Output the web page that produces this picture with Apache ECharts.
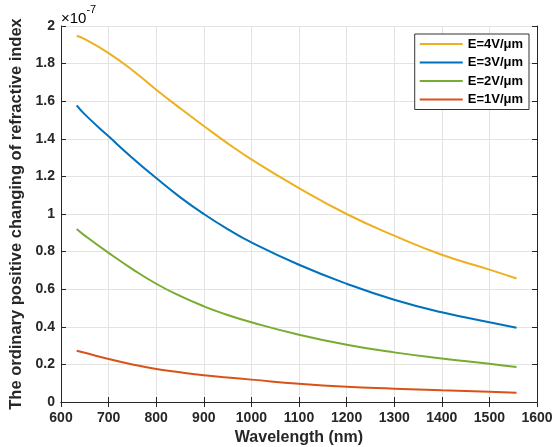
<!DOCTYPE html>
<html>
<head>
<meta charset="utf-8">
<script src="https://cdn.jsdelivr.net/npm/echarts@6/dist/echarts.min.js"></script>
<style>html,body{margin:0;padding:0;background:#fff;}#c{width:552px;height:447px;}</style>
</head>
<body>
<div id="c"></div>
<script>
// wavelength (nm)
const wavelengths = [633, 650, 700, 750, 800, 850, 900, 950, 1000, 1100, 1200, 1300, 1400, 1500, 1557];
// ordinary refractive index change, in units of 1e-7
const e4 = [1.948, 1.930, 1.856, 1.765, 1.661, 1.563, 1.468, 1.376, 1.291, 1.138, 1.000, 0.885, 0.783, 0.704, 0.657];
const e3 = [1.578, 1.530, 1.413, 1.298, 1.191, 1.090, 1.000, 0.920, 0.849, 0.730, 0.629, 0.544, 0.477, 0.424, 0.395];
const e2 = [0.920, 0.885, 0.793, 0.707, 0.629, 0.564, 0.509, 0.463, 0.424, 0.358, 0.305, 0.264, 0.232, 0.204, 0.186];
const e1 = [0.273, 0.262, 0.229, 0.200, 0.176, 0.158, 0.142, 0.130, 0.119, 0.097, 0.081, 0.071, 0.062, 0.055, 0.049];
const xTicks = [600, 700, 800, 900, 1000, 1100, 1200, 1300, 1400, 1500, 1600];
const seriesNames = ['E=4V/\u03bcm', 'E=3V/\u03bcm', 'E=2V/\u03bcm', 'E=1V/\u03bcm'];
const seriesColors = ['#EDB120', '#0072BD', '#77AC30', '#D95319'];
const seriesValues = [e4, e3, e2, e1];

const font = '"Liberation Sans", Arial, Helvetica, sans-serif';
const chart = echarts.init(document.getElementById('c'), null, {renderer: 'canvas'});
const axisCommon = {
  axisLine: {show: true, lineStyle: {color: '#262626', width: 1}},
  axisTick: {show: true, inside: true, length: 5, lineStyle: {color: '#262626'}},
};
chart.setOption({
  backgroundColor: '#fff',
  animation: false,
  grid: {left: 61, right: 15, top: 26, bottom: 45, containLabel: false, outerBoundsMode: 'none'},
  legend: {
    orient: 'vertical',
    right: 23,
    top: 34,
    padding: [3, 6, 3, 5],
    backgroundColor: '#fff',
    borderColor: '#333',
    borderWidth: 1,
    itemWidth: 43,
    itemHeight: 2,
    itemGap: 4.5,
    icon: 'rect',
    textStyle: {fontFamily: font, fontSize: 13, fontWeight: 'bold', color: '#000', lineHeight: 14},
    data: seriesNames
  },
  xAxis: [{
    type: 'value', min: xTicks[0], max: xTicks[xTicks.length - 1], interval: 100, position: 'bottom',
    name: 'Wavelength (nm)', nameLocation: 'middle', nameGap: 28,
    nameTextStyle: {fontFamily: font, fontSize: 16, fontWeight: 'bold', color: '#262626'},
    axisLabel: {fontFamily: font, fontSize: 14, fontWeight: 'bold', color: '#262626', margin: 9,
      formatter: v => String(v)},
    splitLine: {show: true, lineStyle: {color: '#e3e3e3', width: 1}},
    ...axisCommon
  }, {
    type: 'value', min: xTicks[0], max: xTicks[xTicks.length - 1], interval: 100, position: 'top',
    axisLabel: {show: false}, splitLine: {show: false},
    ...axisCommon
  }],
  yAxis: [{
    type: 'value', min: 0, max: 2, interval: 0.2, position: 'left',
    name: 'The ordinary positive changing of refractive index', nameLocation: 'middle', nameGap: 28,
    nameTextStyle: {fontFamily: font, fontSize: 16.5, fontWeight: 'bold', color: '#262626'},
    axisLabel: {fontFamily: font, fontSize: 14, fontWeight: 'bold', color: '#262626', margin: 6},
    splitLine: {show: true, lineStyle: {color: '#e3e3e3', width: 1}},
    ...axisCommon
  }, {
    type: 'value', min: 0, max: 2, interval: 0.2, position: 'right',
    axisLabel: {show: false}, splitLine: {show: false},
    ...axisCommon
  }],
  graphic: [{
    type: 'text', left: 61, top: 4,
    style: {
      text: '{a|\u00d710}{b|-7}',
      rich: {
        a: {fontFamily: font, fontSize: 15, color: '#262626', verticalAlign: 'bottom', padding: [7, 0, 0, 0]},
        b: {fontFamily: font, fontSize: 11, color: '#262626', verticalAlign: 'top', padding: [0, 0, 9, 0]}
      }
    }
  }],
  series: seriesNames.map((n, k) => ({
    name: n, type: 'line', smooth: 0.5, showSymbol: false,
    xAxisIndex: 0, yAxisIndex: 0,
    color: seriesColors[k],
    lineStyle: {width: 2, color: seriesColors[k]},
    data: wavelengths.map((w, i) => [w, seriesValues[k][i]])
  }))
});
</script>
</body>
</html>
